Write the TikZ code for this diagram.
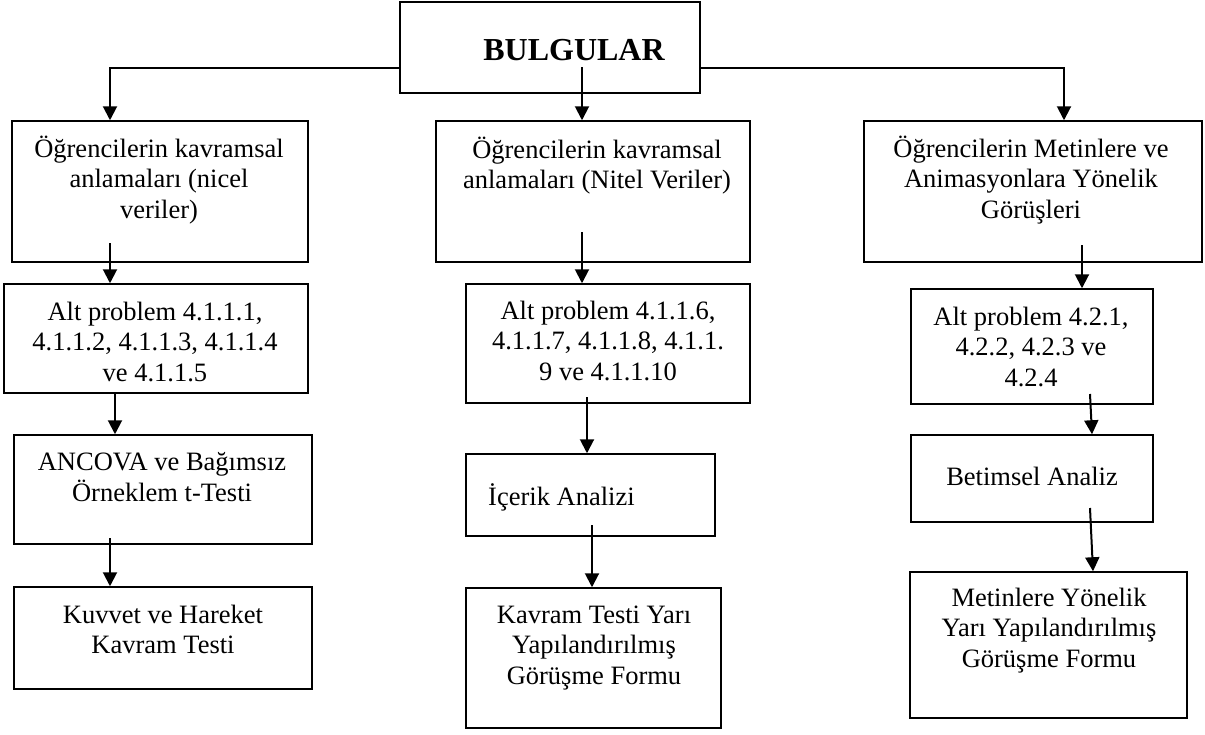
\documentclass[tikz,border=0pt]{standalone}
\usepackage{fontspec}
\setmainfont{Liberation Serif}
\usetikzlibrary{arrows.meta,fit}
\begin{document}
\begin{tikzpicture}[x=1pt,y=-1pt,
  box/.style={draw, line width=1.5pt, inner sep=0pt},
  % multi-line labels are placed by the baseline of their last line
  lbl/.style={font=\fontsize{26.5}{30.5}\selectfont, align=center, inner sep=0pt, anchor=base},
  arr/.style={line width=2pt, -{Triangle[length=14pt,width=14pt]}}]
\useasboundingbox (0,0) rectangle (1205,734);

% frames
\node[box, fit={(400,2) (700,93)}]    (b0)  {};
\node[box, fit={(12,121) (308,262)}]   (b1)  {};
\node[box, fit={(436,121) (750,262)}]  (b2)  {};
\node[box, fit={(864,121) (1202,262)}] (b3)  {};
\node[box, fit={(4,284) (308,393)}]    (b4)  {};
\node[box, fit={(466,284) (750,403)}]  (b5)  {};
\node[box, fit={(911,289) (1153,404)}] (b6)  {};
\node[box, fit={(14,435) (312,544)}]   (b7)  {};
\node[box, fit={(466,454) (715,536)}]  (b8)  {};
\node[box, fit={(911,435) (1153,522)}] (b9)  {};
\node[box, fit={(14,587) (312,689)}]   (b10) {};
\node[box, fit={(466,588) (721,728)}]  (b11) {};
\node[box, fit={(910,572) (1187,718)}] (b12) {};

% texts
\node[anchor=base, inner sep=0pt, font=\fontsize{32}{36}\selectfont\bfseries] (t0) at (574,60) {BULGULAR};
\node[lbl] (t1)  at (159,218)  {Öğrencilerin kavramsal\\anlamaları (nicel\\veriler)};
\node[lbl] (t2)  at (597,188.5) {Öğrencilerin kavramsal\\anlamaları (Nitel Veriler)};
\node[lbl] (t3)  at (1031,218) {Öğrencilerin Metinlere ve\\Animasyonlara Yönelik\\Görüşleri};
\node[lbl] (t4)  at (155,381)  {Alt problem 4.1.1.1,\\4.1.1.2, 4.1.1.3, 4.1.1.4\\ve 4.1.1.5};
\node[lbl] (t5)  at (608,380)  {Alt problem 4.1.1.6,\\4.1.1.7, 4.1.1.8, 4.1.1.\\9 ve 4.1.1.10};
\node[lbl] (t6)  at (1031,386) {Alt problem 4.2.1,\\4.2.2, 4.2.3 ve\\4.2.4};
\node[lbl] (t7)  at (162,501)  {ANCOVA ve Bağımsız\\Örneklem t-Testi};
\node[lbl, anchor=base west] (t8) at (488,505) {İçerik Analizi};
\node[lbl] (t9)  at (1032,485) {Betimsel Analiz};
\node[lbl] (t10) at (163,653.5) {Kuvvet ve Hareket\\Kavram Testi};
\node[lbl] (t11) at (594,684)  {Kavram Testi Yarı\\Yapılandırılmış\\Görüşme Formu};
\node[lbl] (t12) at (1049,667) {Metinlere Yönelik\\Yarı Yapılandırılmış\\Görüşme Formu};

% junction and start points of the connectors
\coordinate (jl) at (110,68);
\coordinate (jr) at (1064,68);
\coordinate (s0) at (582,67);
\coordinate (s1) at (110,243);
\coordinate (s2) at (582,232);
\coordinate (s3) at (1082,245);
\coordinate (s4) at (115,393);
\coordinate (s5) at (587,397);
\coordinate (s6) at (1090,394);
\coordinate (e6) at (1092,0);
\coordinate (s7) at (110,538);
\coordinate (s8) at (592,525);
\coordinate (s9) at (1090,508);
\coordinate (e9) at (1093,0);

% connectors
\draw[arr] (b0.west |- jl) -- (jl) -- (b1.north -| jl);
\draw[arr] (b0.east |- jr) -- (jr) -- (b3.north -| jr);
\draw[arr] (s0) -- (s0 |- b2.north);
\draw[arr] (s1) -- (s1 |- b4.north);
\draw[arr] (s2) -- (s2 |- b5.north);
\draw[arr] (s3) -- (s3 |- b6.north);
\draw[arr] (s4) -- (s4 |- b7.north);
\draw[arr] (s5) -- (s5 |- b8.north);
\draw[arr] (s6) -- (e6 |- b9.north);
\draw[arr] (s7) -- (s7 |- b10.north);
\draw[arr] (s8) -- (s8 |- b11.north);
\draw[arr] (s9) -- (e9 |- b12.north);
\end{tikzpicture}
\end{document}
